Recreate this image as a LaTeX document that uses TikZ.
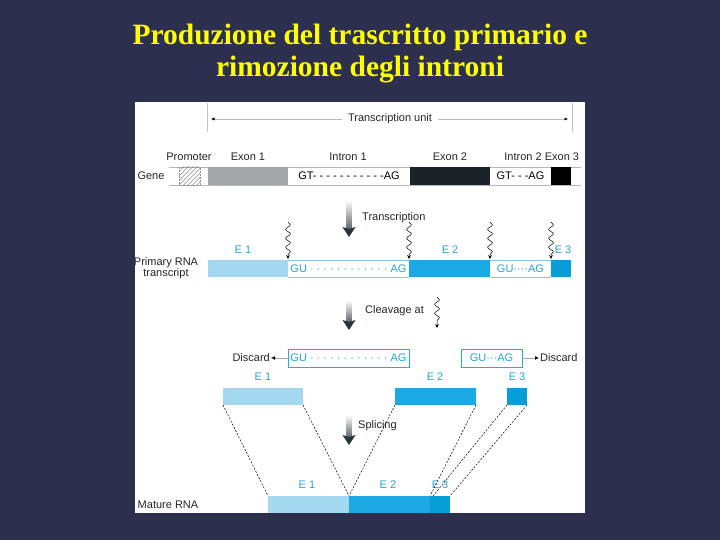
\documentclass[tikz,border=0pt]{standalone}
\usepackage{fontspec}
\setmainfont{Liberation Serif}
\setsansfont{Liberation Sans}
\usetikzlibrary{arrows.meta,decorations.pathmorphing}
\definecolor{bgc}{HTML}{2D2F4F}
\definecolor{ttl}{HTML}{FFFF00}
\definecolor{ecyan}{HTML}{29A3D6}
\definecolor{lblue}{HTML}{A3D8F0}
\definecolor{mblue}{HTML}{1CA8E2}
\definecolor{dblue}{HTML}{079ED8}
\definecolor{bcyan}{HTML}{2BA8DC}
\definecolor{exgrey}{HTML}{A3A7A7}
\definecolor{exdark}{HTML}{1A2428}
\definecolor{arrdark}{HTML}{26343B}
\definecolor{linegrey}{HTML}{B4B8B8}
\begin{document}
\begin{tikzpicture}[x=1pt,y=-1pt,
  title/.style={font=\bfseries\fontsize{29.5}{33}\selectfont, text=ttl, inner sep=0},
  lbl/.style={font=\sffamily\fontsize{11}{12}\selectfont, inner sep=0, text=black!85},
  elbl/.style={lbl, text=ecyan},
  itxt/.style={lbl, text=ecyan},
  seg/.style={draw=none, inner sep=0, outer sep=0, minimum height=18},
  rseg/.style={draw=none, inner sep=0, outer sep=0, minimum height=17},
  wavy/.style={line width=0.5pt, black, decorate, decoration={snake, amplitude=2.4pt, segment length=9pt, post length=4pt},
    -{Stealth[length=4pt,width=3.6pt]}},
  dashln/.style={black, line width=0.5pt, dash pattern=on 2pt off 1.5pt},
  discarr/.style={draw=gray!70, line width=0.8pt, -{Latex[length=4pt,width=4pt,color=black]}},
  unitarr/.style={draw=gray!55, line width=0.5pt, -{Latex[length=3.5pt,width=3pt,color=black]}},
  pics/garrow/.style={code={
    \shade[top color=white, bottom color=arrdark!75] (-2.6,0) rectangle (2.6,#1-8);
    \fill[arrdark] (-6.5,#1-10) -- (0,#1-8) -- (6.5,#1-10) -- (0,#1) -- cycle;
  }}
]
\useasboundingbox (0,0) rectangle (720,540);
\fill[bgc] (0,0) rectangle (720,540);
\fill[white] (135,102) rectangle (585,513);

% title
\node[title] (t1) at (360,37) {Produzione del trascritto primario e};
\node[title] (t2) at (360,70) {rimozione degli introni};

% transcription unit
\coordinate (tkLt) at (207,103); \coordinate (tkLb) at (207,132);
\coordinate (tkRt) at (572,103); \coordinate (tkRb) at (572,132);
\draw[linegrey!80, line width=0.5pt] (tkLt) -- (tkLb);
\draw[linegrey!80, line width=0.5pt] (tkRt) -- (tkRb);
\node[lbl, fill=white, inner xsep=6, inner ysep=1] (tu) at (390,119) {Transcription unit};
\coordinate (tuL) at (211,119); \coordinate (tuR) at (568,119);
\draw[unitarr] (tu.west) -- (tuL);
\draw[unitarr] (tu.east) -- (tuR);

% gene row labels
\node[lbl] (lprom) at (189,157) {Promoter};
\node[lbl] (lex1) at (248,157) {Exon 1};
\node[lbl] (lin1) at (348,157) {Intron 1};
\node[lbl] (lex2) at (450,157) {Exon 2};
\node[lbl] (lin2) at (523,157) {Intron 2};
\node[lbl] (lex3) at (562,157) {Exon 3};
\node[lbl] (lgene) at (151,176) {Gene};

% gene bar
\node[seg, minimum width=412] (genebar) at (375,176) {};
\draw[linegrey, line width=0.8pt] (genebar.north west) -- (genebar.north east);
\draw[linegrey, line width=0.8pt] (genebar.south west) -- (genebar.south east);
\node[seg, minimum width=21] (prom) at (189.5,176) {};
\begin{scope}
  \clip (prom.north west) rectangle (prom.south east);
  \foreach \k in {-24,-19.5,...,24} {
    \draw[gray!85, line width=0.4pt] ([xshift=\k pt]prom.south) -- ++(20,-20);
  }
\end{scope}
\draw[gray!85, line width=0.5pt, densely dotted] (prom.north west) rectangle (prom.south east);
\node[seg, minimum width=80, fill=exgrey] (gex1) at (248,176) {};
\node[seg, minimum width=122] (gin1) at (349,176) {};
\node[lbl, text=black] (gin1t) at (gin1) {GT- - - - - - - - - - -AG};
\node[seg, minimum width=80, fill=exdark] (gex2) at (450,176) {};
\node[seg, minimum width=61] (gin2) at (520.5,176) {};
\node[lbl, text=black] (gin2t) at (gin2) {GT- - -AG};
\node[seg, minimum width=20, fill=black] (gex3) at (561,176) {};

% transcription arrow
\pic (tarr) at (349,200) {garrow=37};
\node[lbl, anchor=west] (ltr) at (362,218) {Transcription};

% wavy arrows
\coordinate (w1s) at (288,222); \coordinate (w1e) at (288,259);
\coordinate (w2s) at (409,222); \coordinate (w2e) at (409,259);
\coordinate (w3s) at (490,222); \coordinate (w3e) at (490,259);
\coordinate (w4s) at (551,222); \coordinate (w4e) at (551,259);
\draw[wavy] (w1s) -- (w1e);
\draw[wavy] (w2s) -- (w2e);
\draw[wavy] (w3s) -- (w3e);
\draw[wavy] (w4s) -- (w4e);

\node[elbl] (pe1) at (243,250) {E 1};
\node[elbl] (pe2) at (450,250) {E 2};
\node[elbl] (pe3) at (563,250) {E 3};

% primary RNA
\node[lbl, align=center, font=\sffamily\fontsize{11}{11}\selectfont] (lprim) at (166,268.5) {Primary RNA\\transcript};
\node[rseg, minimum width=80, fill=lblue] (rex1) at (248,268.5) {};
\node[rseg, minimum width=121] (rin1) at (348.5,268.5) {};
\draw[bcyan!60, line width=0.4pt] (rin1.north west) -- (rin1.north east);
\draw[bcyan!60, line width=0.4pt] (rin1.south west) -- (rin1.south east);
\node[itxt] (rin1t) at (rin1) {GU · · · · · · · · · · · · AG};
\node[rseg, minimum width=81, fill=mblue] (rex2) at (449.5,268.5) {};
\node[rseg, minimum width=61] (rin2) at (520.5,268.5) {};
\draw[bcyan!60, line width=0.4pt] (rin2.north west) -- (rin2.north east);
\draw[bcyan!60, line width=0.4pt] (rin2.south west) -- (rin2.south east);
\node[itxt] (rin2t) at (rin2) {GU····AG};
\node[rseg, minimum width=20, fill=dblue] (rex3) at (561,268.5) {};

% cleavage arrow
\pic (carr) at (349,300) {garrow=30};
\node[lbl, anchor=west] (lcl) at (365,311) {Cleavage at};
\coordinate (wcs) at (437,297); \coordinate (wce) at (437,328);
\draw[wavy] (wcs) -- (wce);

% discard row
\node[seg, minimum width=121, draw=bcyan, line width=0.8pt, fill=white] (din1) at (348.5,358) {};
\node[itxt] (din1t) at (din1) {GU · · · · · · · · · · · · AG};
\node[seg, minimum width=61, draw=bcyan, line width=0.8pt, fill=white] (din2) at (491.5,358) {};
\node[itxt] (din2t) at (din2) {GU···AG};
\node[lbl, anchor=east] (disL) at (270,358) {Discard};
\node[lbl, anchor=west] (disR) at (540,358) {Discard};
\draw[discarr] (din1.west) -- ([xshift=1]disL.east);
\draw[discarr] (din2.east) -- ([xshift=-1]disR.west);

\node[elbl] (ce1) at (263,377) {E 1};
\node[elbl] (ce2) at (435,377) {E 2};
\node[elbl] (ce3) at (517,377) {E 3};

\node[rseg, minimum width=80, fill=lblue] (pc1) at (263,396.5) {};
\node[rseg, minimum width=81, fill=mblue] (pc2) at (435.5,396.5) {};
\node[rseg, minimum width=20, fill=dblue] (pc3) at (517,396.5) {};

% splicing arrow
\pic (sarr) at (349,415) {garrow=30};
\node[lbl, anchor=west] (lsp) at (358,426) {Splicing};

% mature RNA
\node[lbl] (lmat) at (168,504.5) {Mature RNA};
\node[rseg, minimum width=81, fill=lblue] (m1) at (308.5,504.5) {};
\node[rseg, minimum width=81, fill=mblue] (m2) at (389.5,504.5) {};
\node[rseg, minimum width=20, fill=dblue] (m3) at (440,504.5) {};
\node[elbl] (me1) at (307,485) {E 1};
\node[elbl] (me2) at (388,485) {E 2};
\node[elbl] (me3) at (440,485) {E 3};

\draw[dashln] (pc1.south west) -- (m1.north west);
\draw[dashln] (pc1.south east) -- (m1.north east);
\draw[dashln] (pc2.south west) -- (m2.north west);
\draw[dashln] (pc2.south east) -- (m2.north east);
\draw[dashln] (pc3.south west) -- ([xshift=3]m3.north west);
\draw[dashln] (pc3.south east) -- (m3.north east);
\end{tikzpicture}
\end{document}
